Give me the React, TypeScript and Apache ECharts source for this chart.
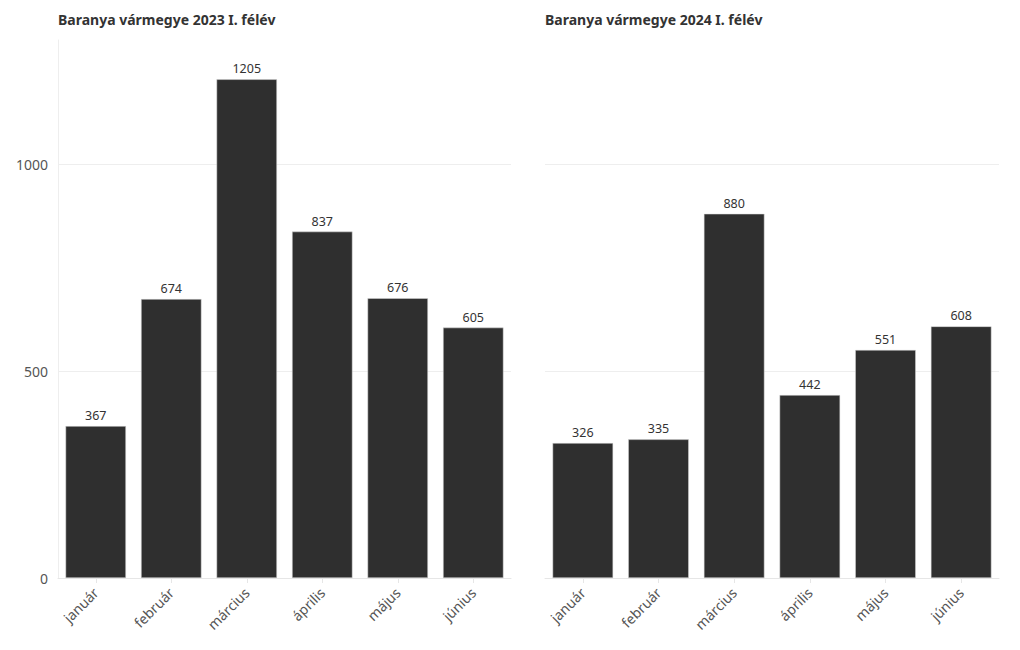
import React, { useEffect, useRef } from "react";
import * as echarts from "echarts";

const months = ["január", "február", "március", "április", "május", "június"];
const values2023 = [367, 674, 1205, 837, 676, 605];
const values2024 = [326, 335, 880, 442, 551, 608];
const titles = ["Baranya vármegye 2023 I. félév", "Baranya vármegye 2024 I. félév"];

const FONT = "'Noto Sans', sans-serif";

export default function App() {
  const ref = useRef<HTMLDivElement>(null);
  useEffect(() => {
    const chart = echarts.init(ref.current!, null, { renderer: "svg" });
    const grids = [
      { left: 58, right: 509, top: 40, bottom: 72 },
      { left: 545, right: 21, top: 40, bottom: 72 },
    ];
    const mkX = (i: number) => ({
      type: "category",
      gridIndex: i,
      data: months,
      axisLine: { show: true, lineStyle: { color: "#e6e6e6" } },
      axisTick: { show: true, alignWithLabel: true, lineStyle: { color: "#e6e6e6" } },
      axisLabel: { rotate: 45, color: "#555", fontSize: 14, fontFamily: FONT, margin: 12 },
    });
    const mkY = (i: number) => ({
      type: "value",
      gridIndex: i,
      min: 0,
      max: 1300,
      interval: 500,
      axisLine: { show: i === 0, lineStyle: { color: "#eeeeee" } },
      axisTick: { show: false },
      splitLine: { show: true, lineStyle: { color: ["#eeeeee", "#eeeeee", "#eeeeee", "rgba(0,0,0,0)"] } },
      axisLabel: {
        show: i === 0,
        color: "#555",
        fontSize: 14,
        fontFamily: FONT,
        margin: 10,
        formatter: (v: number) => (v % 500 === 0 ? String(v) : ""),
      },
    });
    const mkS = (i: number, data: number[]) => ({
      type: "bar",
      xAxisIndex: i,
      yAxisIndex: i,
      data,
      barCategoryGap: "20%",
      itemStyle: { color: "#2f2f2f", borderColor: "#d8d8d8", borderWidth: 0.5 },
      label: { show: true, position: "top", color: "#333", fontSize: 12.5, fontFamily: FONT, distance: 4 },
    });
    const titleStyle = { fontSize: 14, fontWeight: "bold", color: "#333", fontFamily: FONT };
    chart.setOption({
      animation: false,
      backgroundColor: "#ffffff",
      title: [
        { text: titles[0], left: 58, top: 12, padding: 0, textStyle: titleStyle },
        { text: titles[1], left: 545, top: 12, padding: 0, textStyle: titleStyle },
      ],
      grid: grids,
      xAxis: [mkX(0), mkX(1)],
      yAxis: [mkY(0), mkY(1)],
      series: [mkS(0, values2023), mkS(1, values2024)],
    });
    return () => chart.dispose();
  }, []);
  return <div ref={ref} style={{ width: 1020, height: 650, position: "absolute", left: 0, top: 0 }} />;
}
